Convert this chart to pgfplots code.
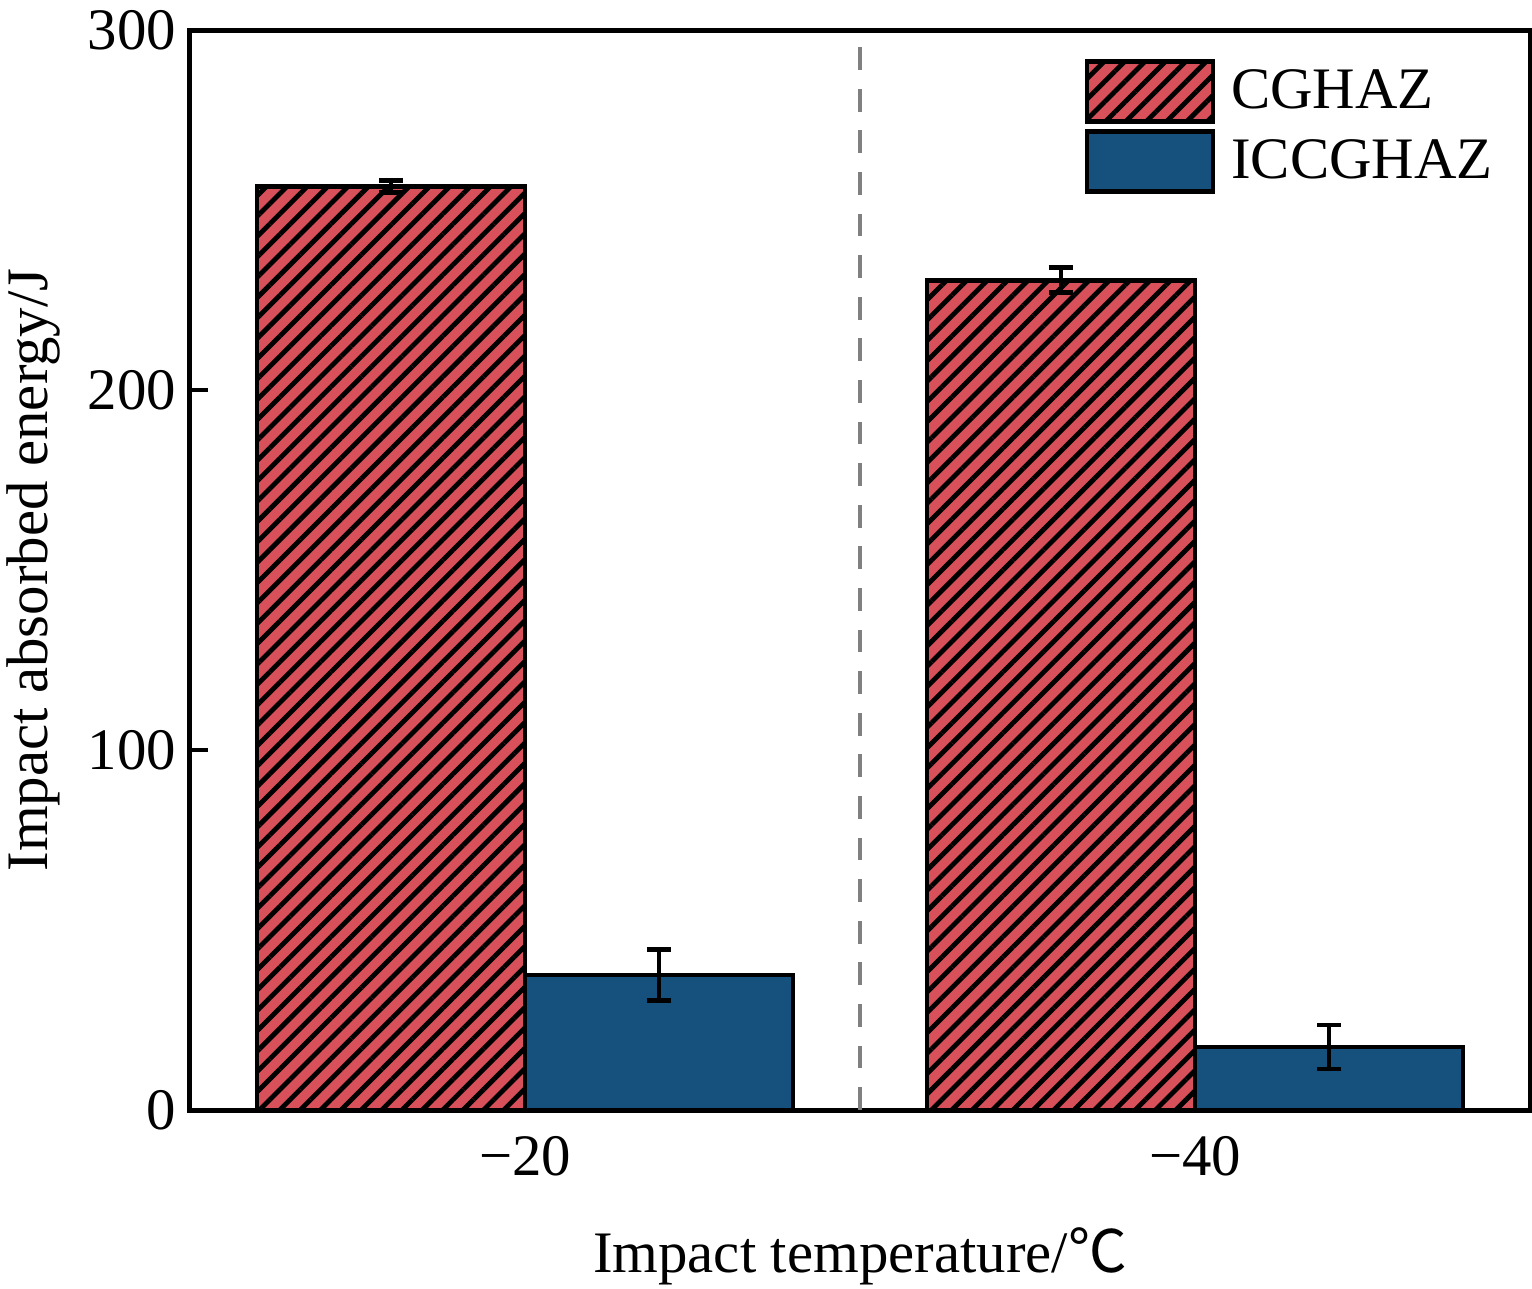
\documentclass[border=0pt]{standalone}
\usepackage{pgfplots}
\pgfplotsset{compat=1.18}
\usepackage{fontspec}
\setmainfont{Liberation Serif}
\newfontfamily\cjk{Noto Sans CJK SC}
\usetikzlibrary{patterns.meta}
\definecolor{cgred}{RGB}{216,80,90}
\definecolor{icblue}{RGB}{21,81,124}
\begin{document}
\begin{tikzpicture}
\begin{axis}[name=ax, scale only axis, width=335pt, height=270pt,
 xmin=-0.5, xmax=1.5, ymin=0, ymax=300,
 ybar=0pt, bar width=0.4,
 xtick={0,1}, xticklabels={−20,−40},
 xtick style={draw=none},
 extra x ticks={0.5}, extra x tick labels={},
 extra x tick style={xtick style={draw=black}, major tick length=2.5pt},
 ytick={0,100,200,300}, tick align=inside, ytick pos=left, xtick pos=bottom,
 major tick length=4.5pt,
 axis line style={line width=1.25pt},
 tick style={line width=1.2pt, black},
 /pgf/number format/assume math mode=true,
 tick label style={font=\fontsize{14.7}{17.6}\selectfont},
 label style={font=\fontsize{14.7}{17.6}\selectfont},
 xticklabel style={yshift=-3pt},
 xlabel={Impact temperature/{\cjk ℃}},
 xlabel style={yshift=-6pt},
 ylabel={Impact absorbed energy/J},
 legend style={draw=none, fill=none, font=\fontsize{14.7}{17.6}\selectfont,
   at={(rel axis cs:0.658,0.981)}, anchor=north west, row sep=1.3pt},
 legend cell align=left,
 legend image code/.code={\draw[#1] (0pt,-7.5pt) rectangle (31.5pt,7.5pt); \path (33.5pt,0pt);},
]
\addplot[draw=black, line width=1.2pt, fill=cgred,
  postaction={pattern={Lines[angle=45,distance=3.6pt,line width=1.2pt]}, pattern color=black},
  error bars/.cd, y dir=both, y explicit,
  error bar style={line width=1.2pt, black},
  error mark options={rotate=90, mark size=3pt, line width=1.2pt, black}]
  coordinates {(0,256.5) +- (0,1.7) (1,230.5) +- (0,3.5)};
\addplot[draw=black, line width=1.2pt, fill=icblue,
  error bars/.cd, y dir=both, y explicit,
  error bar style={line width=1.2pt, black},
  error mark options={rotate=90, mark size=3pt, line width=1.2pt, black}]
  coordinates {(0,37.5) +- (0,7.1) (1,17.5) +- (0,6.1)};
\legend{CGHAZ, ICCGHAZ}
\draw[gray, line width=1pt, dash pattern=on 5.7pt off 4.7pt] (axis cs:0.5,0) -- (axis cs:0.5,300);
\end{axis}
\pgfresetboundingbox
\path ([xshift=-47.5pt,yshift=-44.5pt]ax.south west) rectangle ([xshift=0.5pt,yshift=7.5pt]ax.north east);
\end{tikzpicture}
\end{document}
